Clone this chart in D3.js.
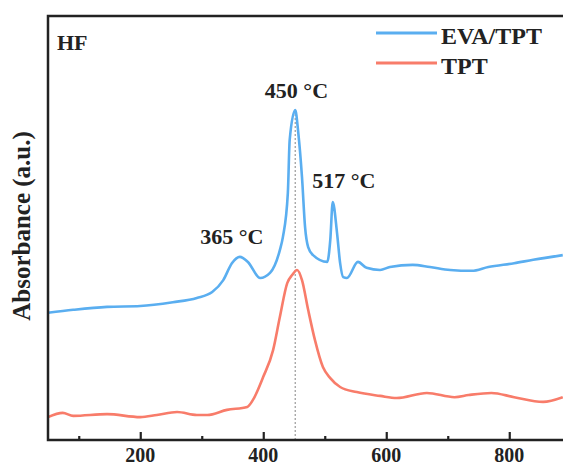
<!DOCTYPE html>
<html>
<head>
<meta charset="utf-8">
<script src="https://cdn.jsdelivr.net/npm/d3@7"></script>
<style>
  body { margin: 0; background: #fff; }
  text { font-family: "Liberation Serif", "Times New Roman", serif; font-weight: bold; fill: #222; }
</style>
</head>
<body>
<svg id="chart"></svg>
<script>
// spectra: temperature (°C) and absorbance (a.u.)
const evaTemp = [50, 91, 146, 200, 253, 292, 317, 335, 349, 362, 375, 395, 411, 427, 432, 440, 443, 452, 457, 463, 468, 473, 481, 504, 509, 513, 520, 525, 530, 536, 554, 568, 590, 606, 643, 671, 704, 739, 766, 808, 839, 887];
const evaAbs  = [30.0, 30.7, 31.4, 31.6, 32.5, 33.5, 34.9, 37.7, 41.7, 43.2, 42.0, 38.2, 39.4, 44.8, 47.9, 58.3, 70.8, 77.8, 72.4, 62.0, 50.2, 45.5, 43.6, 42.0, 47.2, 56.1, 48.8, 41.7, 38.4, 38.2, 42.0, 40.6, 40.1, 40.8, 41.3, 40.8, 40.1, 39.9, 40.8, 41.7, 42.5, 43.6];

const tptTemp = [50, 74, 91, 146, 200, 227, 260, 292, 309, 341, 374, 383, 400, 416, 427, 439, 447, 455, 463, 473, 484, 497, 509, 525, 552, 590, 617, 666, 711, 734, 771, 808, 855, 887];
const tptAbs  = [5.4, 6.4, 5.7, 6.1, 5.4, 5.9, 6.6, 5.9, 5.9, 7.1, 7.8, 9.4, 14.9, 21.2, 29.0, 37.0, 38.9, 40.1, 37.7, 30.7, 23.6, 17.2, 14.6, 12.5, 11.3, 10.4, 9.9, 11.1, 10.1, 10.6, 11.1, 10.1, 9.0, 10.1];

const majorTicks = [200, 400, 600, 800];
const minorTicks = [100, 300, 500, 700];
const peakLine = 452;

const peakLabels = [
  { text: "365 °C", t: 349, a: 46.2 },
  { text: "450 °C", t: 454, a: 80.7 },
  { text: "517 °C", t: 531, a: 59.4 }
];
const seriesNames = ["EVA/TPT", "TPT"];
const seriesColors = ["#5aaef0", "#f87c6a"];

const width = 563, height = 468;
const svg = d3.select("#chart").attr("width", width).attr("height", height);

const plotLeft = 48, plotTop = 16, plotBottom = 440;
const x = d3.scaleLinear().domain([50, 900]).range([plotLeft, plotLeft + 850 * 0.615]);
const y = d3.scaleLinear().domain([0, 100]).range([plotBottom, plotTop]);

// dotted guide through the main peak
svg.append("line")
  .attr("x1", x(peakLine)).attr("x2", x(peakLine))
  .attr("y1", y(0)).attr("y2", y(77))
  .attr("stroke", "#999").attr("stroke-width", 1.2)
  .attr("stroke-dasharray", "2,2");

const line = d3.line()
  .x(d => x(d[0]))
  .y(d => y(d[1]))
  .curve(d3.curveMonotoneX);

svg.append("path")
  .datum(tptTemp.map((t, i) => [t, tptAbs[i]]))
  .attr("d", line)
  .attr("fill", "none")
  .attr("stroke", seriesColors[1])
  .attr("stroke-width", 2.6);

svg.append("path")
  .datum(evaTemp.map((t, i) => [t, evaAbs[i]]))
  .attr("d", line)
  .attr("fill", "none")
  .attr("stroke", seriesColors[0])
  .attr("stroke-width", 2.6);

// bottom axis, ticks pointing inward
const xAxis = svg.append("g").attr("transform", `translate(0,${plotBottom})`);
xAxis.call(d3.axisTop(x).tickValues(majorTicks).tickSize(8).tickFormat(""));
xAxis.append("g").call(d3.axisTop(x).tickValues(minorTicks).tickSize(4).tickFormat(""));
xAxis.selectAll("path.domain").remove();
xAxis.selectAll("line").attr("stroke", "#222").attr("stroke-width", 2.2);

svg.append("g").selectAll("text")
  .data(majorTicks)
  .enter().append("text")
  .attr("x", d => x(d))
  .attr("y", 462)
  .attr("text-anchor", "middle")
  .attr("font-size", 20)
  .text(d => d);

// frame (right side falls outside the picture)
svg.append("path")
  .attr("d", `M${x(900)},${plotTop}H${plotLeft}V${plotBottom}H${x(900)}`)
  .attr("fill", "none")
  .attr("stroke", "#222")
  .attr("stroke-width", 2.5);

svg.append("text")
  .attr("transform", `translate(30,226) rotate(-90)`)
  .attr("text-anchor", "middle")
  .attr("font-size", 25)
  .text("Absorbance (a.u.)");

svg.append("text")
  .attr("x", 57).attr("y", 50)
  .attr("font-size", 22)
  .text("HF");

svg.selectAll(".peak")
  .data(peakLabels)
  .enter().append("text")
  .attr("class", "peak")
  .attr("x", d => x(d.t))
  .attr("y", d => y(d.a))
  .attr("text-anchor", "middle")
  .attr("font-size", 22)
  .text(d => d.text);

// legend
const legend = svg.append("g");
seriesNames.forEach((name, i) => {
  const ly = 33 + i * 30;
  legend.append("line")
    .attr("x1", 376).attr("x2", 437)
    .attr("y1", ly).attr("y2", ly)
    .attr("stroke", seriesColors[i]).attr("stroke-width", 3);
  legend.append("text")
    .attr("x", 441).attr("y", ly + 5)
    .attr("font-size", 24)
    .attr("dominant-baseline", "middle")
    .text(name);
});
</script>
</body>
</html>
